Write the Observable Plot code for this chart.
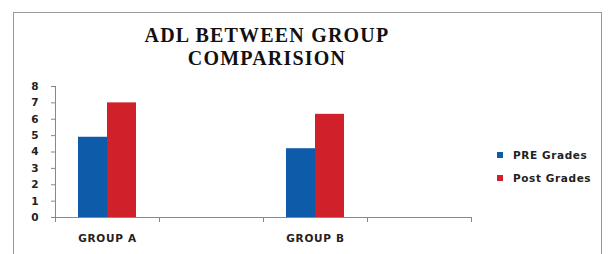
<!DOCTYPE html>
<html><head><meta charset="utf-8">
<script src="https://cdn.jsdelivr.net/npm/d3@7"></script>
<script src="https://cdn.jsdelivr.net/npm/@observablehq/plot@0.6"></script>
<style>
body{margin:0;background:#fff;}
#wrap{position:relative;width:608px;height:254px;overflow:hidden;background:#fff;}
#border{position:absolute;left:13px;top:12px;width:589px;height:260px;border:1px solid #999;box-sizing:border-box;}
#chart{position:absolute;left:0;top:0;}
.title{position:absolute;left:67px;width:400px;text-align:center;font-family:"Liberation Serif",serif;font-weight:bold;font-size:20px;letter-spacing:1.2px;line-height:22px;height:22px;color:#111;}
#legend{position:absolute;left:497px;top:149px;font-family:"DejaVu Sans",sans-serif;font-size:10.5px;font-weight:bold;letter-spacing:0.6px;color:#222;}
#legend .item{display:flex;align-items:center;height:12px;margin-bottom:11px;}
#legend .sw{width:6px;height:6px;margin-right:10px;}
</style></head>
<body>
<div id="wrap">
  <div id="border"></div>
  <div id="chart"></div>
  <div class="title" style="top:24px">ADL BETWEEN GROUP</div>
  <div class="title" style="top:46.5px">COMPARISION</div>
  <div id="legend"></div>
</div>
<script>
const categories = ["GROUP A", "gap1", "GROUP B", "gap2"];
const barGroups = ["GROUP A", "GROUP B"];
const seriesNames = ["PRE Grades", "Post Grades"];
const preValues = [4.9, 4.2];
const postValues = [7.0, 6.3];
const yTicks = [0, 1, 2, 3, 4, 5, 6, 7, 8];
const colors = ["#0E5BAA", "#D0202A"];

const data = barGroups.flatMap((g, i) => [
  {group: g, series: seriesNames[0], value: preValues[i]},
  {group: g, series: seriesNames[1], value: postValues[i]}
]);

const axisStroke = "#888";
const baseMarks = (anchor) => [
  Plot.ruleY([0], {stroke: axisStroke, facetAnchor: anchor}),
  Plot.frame({anchor: "left", stroke: axisStroke, insetTop: 131, insetBottom: -4, facetAnchor: anchor}),
  Plot.frame({anchor: "right", stroke: axisStroke, insetTop: 131, insetBottom: -4, facetAnchor: anchor})
];

const plot = Plot.plot({
  width: 608, height: 254,
  marginLeft: 53, marginRight: 136, marginTop: 86, marginBottom: 37,
  style: {fontFamily: "DejaVu Sans, sans-serif", fontSize: "10px", fontWeight: "bold", color: "#222", background: "transparent"},
  fx: {domain: categories, padding: 0, label: null, axis: null},
  x: {domain: seriesNames, paddingInner: 0, paddingOuter: 0.78, axis: null},
  y: {domain: [0, 8], axis: null},
  color: {domain: seriesNames, range: colors},
  marks: [
    Plot.barY(data, {fx: "group", x: "series", y: "value", fill: "series"}),
    ...baseMarks(null),
    ...baseMarks("empty"),
    Plot.frame({anchor: "left", stroke: axisStroke, facetAnchor: "left"}),
    Plot.axisY({ticks: yTicks, tickSize: 4, tickPadding: 13, label: null, facetAnchor: "left", stroke: axisStroke,
                fontSize: 10.5, fill: "#222"}),
    Plot.axisFx({anchor: "bottom", tickSize: 0, tickPadding: 17, label: null, fontSize: 10.5, fill: "#222",
                 tickFormat: d => d.startsWith("gap") ? "" : d})
  ]
});
document.getElementById("chart").appendChild(plot);
plot.querySelectorAll("[aria-label='fx-axis tick label'] text").forEach(t => t.setAttribute("letter-spacing", "0.7"));

const legend = document.getElementById("legend");
seriesNames.forEach((s, i) => {
  const item = document.createElement("div");
  item.className = "item";
  const sw = document.createElement("span");
  sw.className = "sw";
  sw.style.background = colors[i];
  const t = document.createElement("span");
  t.textContent = s;
  item.appendChild(sw); item.appendChild(t);
  legend.appendChild(item);
});
</script>
</body></html>
